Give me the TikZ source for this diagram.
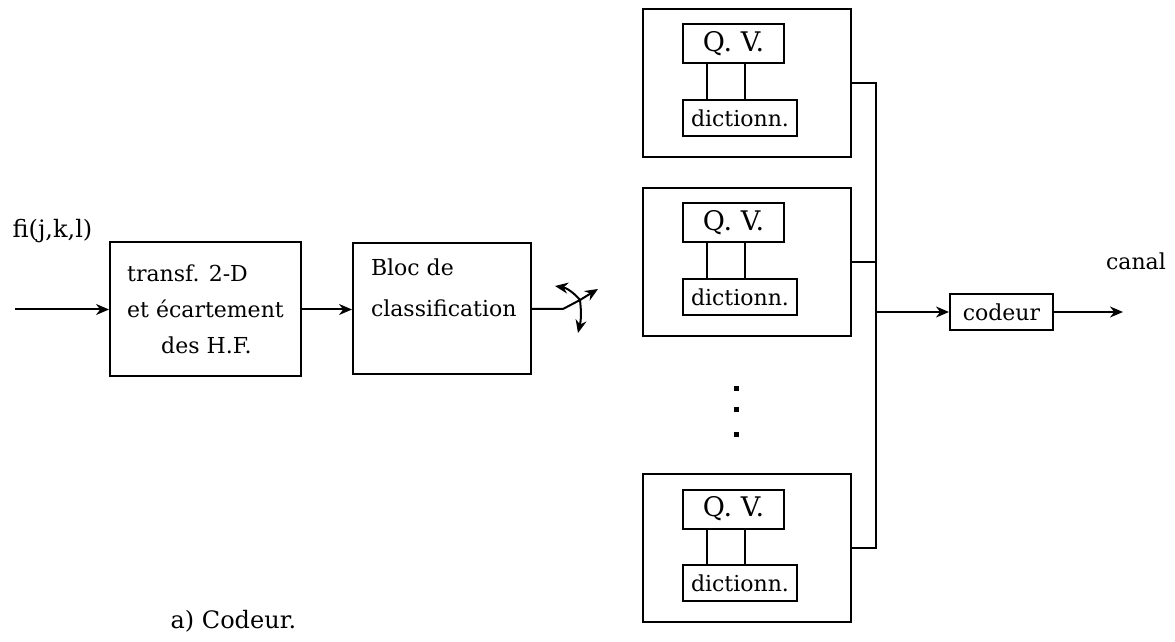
\documentclass[tikz,border=0pt]{standalone}
\usepackage{fontspec}
\setmainfont{DejaVu Serif}
\usetikzlibrary{arrows.meta,calc}

\begin{document}
\begin{tikzpicture}[x=0.5pt, y=-0.5pt, line width=1pt,
    font=\fontsize{11}{14}\selectfont,
    bloc/.style={draw, inner sep=0pt},
    grp/.style={draw, minimum width=104pt, minimum height=74pt},
    qv/.style={draw, inner sep=0pt, minimum width=50.5pt, minimum height=19.5pt,
               font=\fontsize{13.5}{15}\selectfont},
    dico/.style={draw, inner sep=0pt, minimum width=57pt, minimum height=18pt},
    arr/.style={-{Stealth[length=6.5pt,width=5.5pt]}}]

    \useasboundingbox (0,0) rectangle (1175,642);

    % Entrée
    \coordinate (in) at (15,309.5);
    \node[anchor=west, font=\fontsize{12}{14}\selectfont] (fi) at (5,231) {fi(j,k,l)};

    % Transformation et classification
    \node[bloc, minimum width=95.5pt, minimum height=67pt, align=left,
          font=\fontsize{11}{18}\selectfont] (tr) at (205.5,309.5)
        {transf. 2-D\\et écartement\\\hspace*{17pt}des H.F.};
    \node[bloc, minimum width=89pt, minimum height=65.5pt] (cl) at (442,309) {};
    \node[anchor=north west, inner sep=0pt, align=left,
          font=\fontsize{11}{20.5}\selectfont] (cltxt) at (370,258)
        {Bloc de\\classification};

    \draw[arr] (in) -- (tr.west);
    \draw[arr] (tr.east) -- (tr.east -| cl.west);

    % Aiguillage
    \coordinate (sw) at (580,300);
    \coordinate (swk) at (563,309);
    \coordinate (swa) at (555,286);
    \coordinate (swb) at (598,289);
    \coordinate (swc) at (578,333);
    \draw (cl.east) -- (swk) -- (sw);
    \draw[arr] (sw) to[bend right=20] (swa);
    \draw[arr] (sw) -- (swb);
    \draw[arr] (sw) to[bend left=10] (swc);

    % Quantificateurs vectoriels
    \foreach \i/\y in {1/83,2/262,3/548}{
        \node[grp] (grp\i) at (747,\y) {};
        \node[qv] (qv\i) at (733.5,\y-39) {Q. V.};
        \node[dico] (dic\i) at (740,\y+35) {dictionn.};
        \draw ([xshift=12.5pt]qv\i.south west) -- ([xshift=12.5pt]qv\i.south west |- dic\i.north);
        \draw ([xshift=31.5pt]qv\i.south west) -- ([xshift=31.5pt]qv\i.south west |- dic\i.north);
    }
    \foreach \d in {389,410,435}
        \fill (733.5,\d-2.5) rectangle +(5,5);

    % Sortie
    \coordinate (bus) at (876,548);
    \draw (grp1.east) -| (bus) -- (grp3.east);
    \draw (grp2.east) -- (grp2.east -| bus);

    \node[bloc, minimum width=51.5pt, minimum height=18pt] (cod) at (1001.5,312) {codeur};
    \draw[arr] (cod.west -| bus) -- (cod.west);
    \coordinate (out) at (1123,312);
    \draw[arr] (cod.east) -- (out);
    \node (can) at (1136,261) {canal};

    \node[anchor=west, font=\fontsize{12}{14}\selectfont] (cap) at (163,621) {a) Codeur.};

\end{tikzpicture}
\end{document}
